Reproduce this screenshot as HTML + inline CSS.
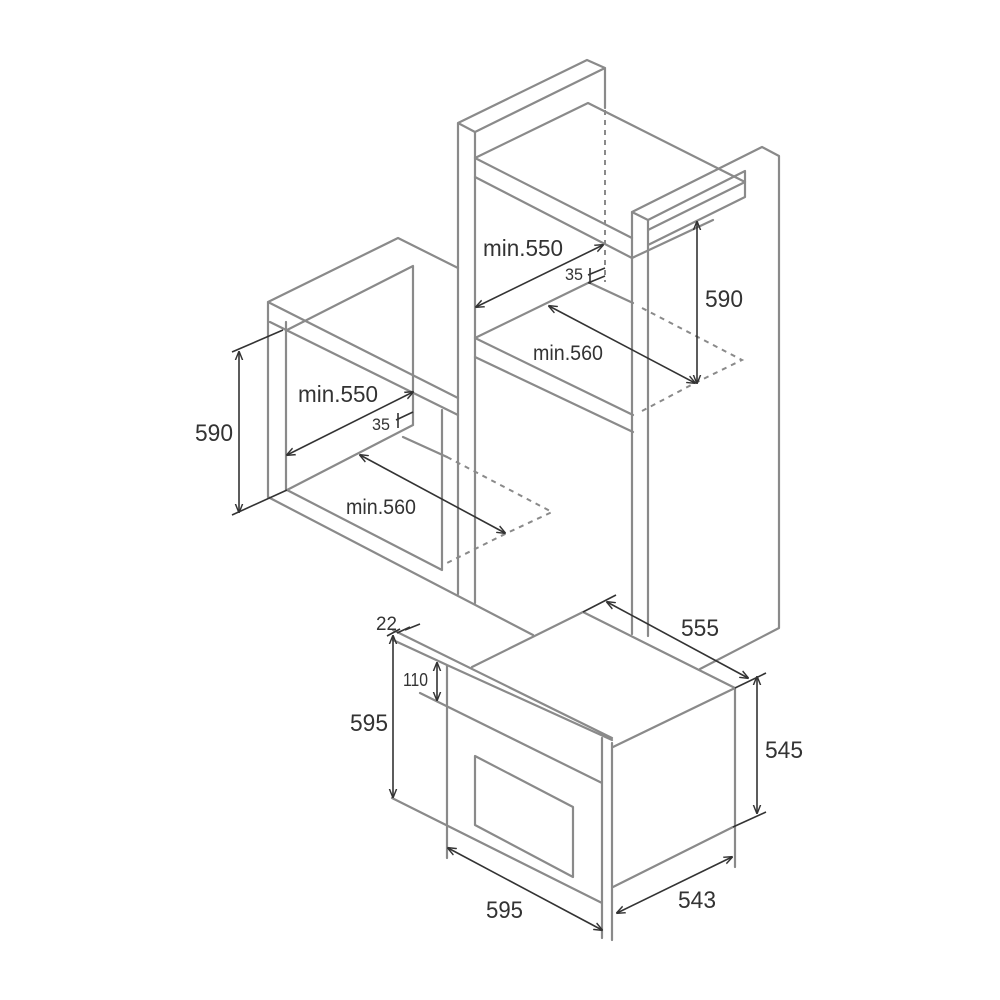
<!DOCTYPE html>
<html><head><meta charset="utf-8"><style>
html,body{margin:0;padding:0;background:#fff;}
svg{display:block;}
.s{stroke:#8a8a8a;stroke-width:2.2;fill:none;stroke-linejoin:round;stroke-linecap:round;}
.d{stroke:#8a8a8a;stroke-width:2;fill:none;stroke-dasharray:5 5;}
.k{stroke:#333;stroke-width:1.6;fill:none;}
text{font-family:"Liberation Sans",sans-serif;fill:#333;}
</style></head><body>
<svg width="1000" height="1000" viewBox="0 0 1000 1000" xmlns="http://www.w3.org/2000/svg">
<defs>
<marker id="a" viewBox="0 0 10 10" refX="9" refY="5" markerWidth="9" markerHeight="9" orient="auto-start-reverse" markerUnits="userSpaceOnUse">
<path d="M0,1 L10,5 L0,9" fill="none" stroke="#333" stroke-width="1.6"/></marker>
</defs>
<path class="s" d="M458,123 L587,60 L605,68 L475,132 Z M458,123 V594 M475,132 V603 M605,68 V108"/>
<path class="d" d="M605,110 V282"/>
<path class="s" d="M475,158 L588,103 L745,182 M475,158 L632,238 M475,177 L632,258 M632,258 L713,220"/>
<path class="s" d="M632,212 L762,147 L779,156 L779,628 L700,669 M632,212 V634 M648,220 V636 M632,212 L648,220 M648,220 L745,171 L745,197 L648,245 M648,230 L743,183"/>
<path class="s" d="M475,338 L590,282 M590,283 L633,303 M475,338 L633,415 M475,357 L633,432"/>
<path class="d" d="M642,308 L742,360 L695,383 L642,411"/>
<path class="s" d="M268,302 L398,238 L458,268 M268,302 V497 M286,322 V490 M268,302 L458,398 M270,322 L458,415 M287,330 L413,266 M413,266 V425 M287,490 L413,425 M268,497 L533,635 M287,490 L442,570 M442,410 V570 M403,437 L447,457"/>
<path class="d" d="M447,457 L552,512 L507,533 L447,563"/>
<path class="s" d="M393,630 L612,738 M393,640 L447,665 M447,665 L612,740 M447,665 V858 M420,693 L602,783 M602,738 V938 M612,743 V940 M392,798 L602,903"/>
<path class="s" d="M475,756 L573,807 L573,877 L475,825 Z"/>
<path class="s" d="M472,667 L583,612 L735,688 M613,747 L735,688 V867 M613,887 L733,827"/>
<g class="k">
<line x1="476" y1="307" x2="603" y2="245" marker-start="url(#a)" marker-end="url(#a)"/>
<line x1="549" y1="306" x2="695" y2="383" marker-start="url(#a)" marker-end="url(#a)"/>
<line x1="697" y1="222" x2="697" y2="383" marker-start="url(#a)" marker-end="url(#a)"/>
<path d="M588,275 L605,268 M590,268 V284 M588,283 L605,276"/>
<line x1="287" y1="455" x2="413" y2="392" marker-start="url(#a)" marker-end="url(#a)"/>
<line x1="360" y1="455" x2="505" y2="533" marker-start="url(#a)" marker-end="url(#a)"/>
<line x1="239" y1="352" x2="239" y2="512" marker-start="url(#a)" marker-end="url(#a)"/>
<path d="M232,352 L283,330 M232,515 L287,490 M396,420 L413,412 M398,413 V428"/>
<line x1="393" y1="636" x2="393" y2="797" marker-start="url(#a)" marker-end="url(#a)"/>
<path d="M387,636 L400,629"/>
<line x1="437" y1="663" x2="437" y2="700" marker-start="url(#a)" marker-end="url(#a)"/>
<path d="M410,627 L397,633 M405,630 L420,624"/>
<line x1="448" y1="848" x2="602" y2="930" marker-start="url(#a)" marker-end="url(#a)"/>
<line x1="617" y1="913" x2="732" y2="857" marker-start="url(#a)" marker-end="url(#a)"/>
<line x1="757" y1="677" x2="757" y2="813" marker-start="url(#a)" marker-end="url(#a)"/>
<path d="M735,688 L766,673 M733,827 L766,812"/>
<line x1="607" y1="602" x2="748" y2="678" marker-start="url(#a)" marker-end="url(#a)"/>
<path d="M583,612 L616,595"/>
</g>
<text x="483" y="256" font-size="23" textLength="80" lengthAdjust="spacingAndGlyphs">min.550</text>
<text x="565" y="280" font-size="17" textLength="18" lengthAdjust="spacingAndGlyphs">35</text>
<text x="705" y="307" font-size="24" textLength="38" lengthAdjust="spacingAndGlyphs">590</text>
<text x="533" y="360" font-size="21" textLength="70" lengthAdjust="spacingAndGlyphs">min.560</text>
<text x="298" y="402" font-size="23" textLength="80" lengthAdjust="spacingAndGlyphs">min.550</text>
<text x="372" y="430" font-size="17" textLength="18" lengthAdjust="spacingAndGlyphs">35</text>
<text x="195" y="441" font-size="24" textLength="38" lengthAdjust="spacingAndGlyphs">590</text>
<text x="346" y="514" font-size="21" textLength="70" lengthAdjust="spacingAndGlyphs">min.560</text>
<text x="376" y="630" font-size="19" textLength="21" lengthAdjust="spacingAndGlyphs">22</text>
<text x="403" y="686" font-size="18" textLength="25" lengthAdjust="spacingAndGlyphs">110</text>
<text x="350" y="731" font-size="24" textLength="38" lengthAdjust="spacingAndGlyphs">595</text>
<text x="681" y="636" font-size="24" textLength="38" lengthAdjust="spacingAndGlyphs">555</text>
<text x="765" y="758" font-size="24" textLength="38" lengthAdjust="spacingAndGlyphs">545</text>
<text x="486" y="918" font-size="24" textLength="37" lengthAdjust="spacingAndGlyphs">595</text>
<text x="678" y="908" font-size="24" textLength="38" lengthAdjust="spacingAndGlyphs">543</text>
</svg>
</body></html>
